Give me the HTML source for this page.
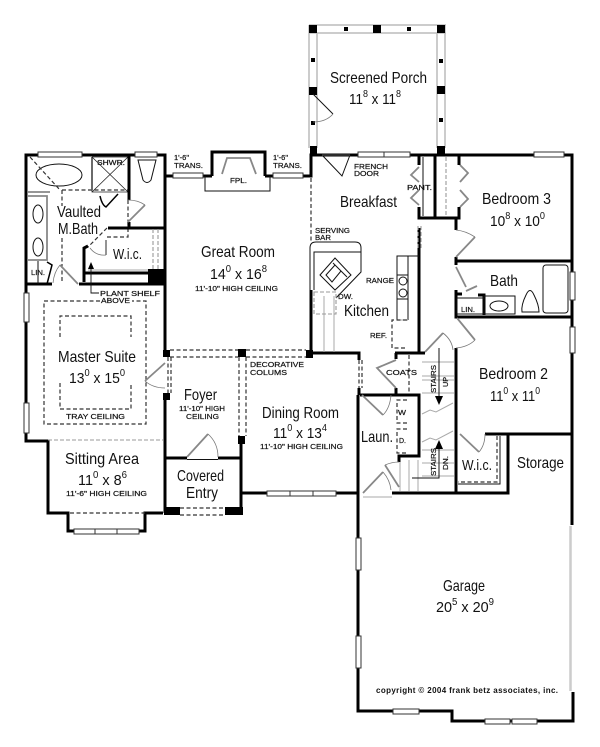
<!DOCTYPE html>
<html><head><meta charset="utf-8"><style>
html,body{margin:0;padding:0;background:#fff}
svg{display:block;filter:blur(.35px)}
text{font-family:"Liberation Sans",sans-serif;fill:#111}
.r{font-size:16px}.m{font-size:15px}
.s{font-size:7px;stroke:#111;stroke-width:.2}
.w{fill:none;stroke:#000;stroke-width:3}
.t{fill:none;stroke:#111;stroke-width:1}
.g{fill:none;stroke:#888;stroke-width:1.8}
.lg{fill:none;stroke:#aaa;stroke-width:1}
.d{fill:none;stroke:#333;stroke-width:1.2;stroke-dasharray:4 2.5}
.dg{fill:none;stroke:#999;stroke-width:1.1;stroke-dasharray:4 2}
.a{fill:none;stroke:#777;stroke-width:.8}
.win{fill:#fff;stroke:#333;stroke-width:1}
</style></head><body>
<svg width="600" height="747" viewBox="0 0 600 747" xmlns="http://www.w3.org/2000/svg">
<rect width="600" height="747" fill="#fff"/>
<!-- porch -->
<path d="M309 25H446M309 33H446M309 25V148M317 33V148M437 33V148M445 25V148" fill="none" stroke="#bbb" stroke-width="1.500"/>
<g fill="#000"><rect x="309" y="25" width="8" height="8"/><rect x="373" y="25" width="8" height="8"/><rect x="437" y="25" width="8" height="8"/><rect x="344" y="27" width="4" height="4"/><rect x="407" y="27" width="4" height="4"/><rect x="311" y="58" width="4" height="4"/><rect x="439" y="59" width="4" height="4"/><rect x="309" y="87" width="8" height="8"/><rect x="437" y="86" width="8" height="8"/><rect x="311" y="121" width="4" height="4"/><rect x="439" y="118" width="4" height="4"/><rect x="310" y="146" width="7" height="10"/><rect x="437" y="146" width="8" height="10"/></g>
<path class="t" d="M313 94L333 114"/><path class="a" d="M333 114Q326 122 313 122"/>
<!-- main walls -->
<path class="w" d="M165 176V155H26V293M26 322V403M26 433V441H48V513H68V531H145V513H163"/>
<path class="w" d="M165 155V351M165 397V513M165 458H187M218 458H241M241 437V513M241 493H358M392 493H508V434H485M572 434H485M358 395V711H452V721H573V692M572 525V155H311V176H303M205 176H165M212 176V152H265V176"/>
<path class="w" d="M205 176H212M265 176H273"/>
<path class="w" d="M313 353H359V360M311 290V353M359 388V395"/>
<!-- fireplace -->
<path class="t" d="M205 176V191H270V176"/><path class="g" d="M222 174L227 158H250L256 174"/>
<rect class="win" x="173" y="173" width="30" height="5"/><rect class="win" x="273" y="173" width="30" height="5"/>
<rect class="win" x="38" y="152" width="44" height="5"/><rect class="win" x="135" y="152" width="22" height="5"/>
<rect class="win" x="358" y="152" width="26" height="5"/><rect class="win" x="384" y="152" width="26" height="5"/>
<rect class="win" x="534" y="152" width="30" height="5"/>
<rect class="win" x="24" y="293" width="5" height="29"/><rect class="win" x="24" y="403" width="5" height="30"/>
<rect class="win" x="74" y="529" width="21" height="5"/><rect class="win" x="95" y="529" width="22" height="5"/><rect class="win" x="117" y="529" width="22" height="5"/>
<rect class="win" x="267" y="491" width="23" height="5"/><rect class="win" x="290" y="491" width="23" height="5"/><rect class="win" x="313" y="491" width="23" height="5"/>
<rect class="win" x="570" y="272" width="5" height="28"/><rect class="win" x="570" y="327" width="5" height="26"/>
<rect class="win" x="356" y="538" width="5" height="32"/><rect class="win" x="356" y="636" width="5" height="32"/>
<rect class="win" x="393" y="709" width="26" height="5"/><rect class="win" x="485" y="719" width="25" height="5"/><rect class="win" x="512" y="719" width="25" height="5"/>
<path d="M570.500 526V691" stroke="#ccc" stroke-width="2.500" fill="none"/>
<!-- master bath -->
<ellipse class="t" cx="59" cy="175" rx="23" ry="11"/>
<path class="d" d="M30 157L60 190M62 190V206M62 238V282M62 190H128M128 200V222M107 237H128V222M107 228L88 247"/>
<path class="g" d="M28 192H50M28 196H47V260H28M92 157V190"/>
<path d="M92 157H128V192H92V157M92 192L128 157M92 157L128 192" fill="none" stroke="#222" stroke-width=".8"/>
<path class="w" d="M129 155V200M129 222V228M108 228H165M84 282V248L88 246M84 273H148M26 284H52M79 284H165"/>
<path d="M100 196Q102 205 106 207L118 194" fill="none" stroke="#000" stroke-width="1.500"/>
<rect x="148" y="269" width="17" height="15" fill="#000"/>
<path class="dg" d="M153 229V270M158 229V270"/><path class="lg" d="M88 270H148"/>
<path class="g" d="M128 222L145 205"/><path class="a" d="M145 205Q138 200 128 200"/>
<path class="t" d="M138 160H156L151 180Q147 185 143 180Z"/>
<ellipse class="t" cx="38" cy="214" rx="5" ry="9"/><ellipse class="t" cx="38" cy="247" rx="5" ry="9"/>
<path class="t" d="M38 261V284"/><path d="M47 284L52 265L47 262" fill="none" stroke="#000" stroke-width="1.500"/>
<path class="g" d="M60 265L78 284"/><path class="a" d="M60 265Q54 272 53 283"/>
<path class="g" d="M106 240V255"/><path class="a" d="M106 255Q96 256 90 248"/>
<path d="M91 264V293H99" fill="none" stroke="#111" stroke-width=".9"/><path d="M91 262L88 269H94Z" fill="#000"/>
<!-- tray -->
<path class="d" d="M100 301H44V424H146V301H132M60 337V316H131V337M60 383V409H131V383"/>
<path class="dg" d="M48 440H163"/>
<!-- master door / foyer -->
<path class="g" d="M165 363L145 381"/><path class="a" d="M145 381Q153 388 165 388"/>
<path class="g" d="M187 457L208 434"/><path class="a" d="M208 434Q218 443 218 457"/>
<path class="t" d="M187 459.500H218"/>
<g fill="#000"><rect x="163" y="350" width="7" height="7"/><rect x="163" y="393" width="7" height="7"/><rect x="238" y="349" width="8" height="8"/><rect x="306" y="350" width="7" height="8"/><rect x="238" y="436" width="7" height="8"/><rect x="164" y="507" width="16" height="8"/><rect x="225" y="507" width="18" height="8"/></g>
<path class="d" d="M170 350H238M170 357H238M246 350H306M246 357H306M168 357V393M171 357V393M239 357V436M246 357V436M180 508H225M180 515H225M70 513H145M359 360V388M362 360V388"/>
<!-- kitchen -->
<path class="d" d="M311 178V242"/>
<path class="t" d="M310 290V248Q310 242 316 242H355Q361 242 361 248V272L336 298M314 290V252H361"/>
<path class="t" d="M320 275L335 258L351 275L335 290ZM326 275L335 265L341 271L332 282ZM333 263L347 277"/>
<path class="lg" d="M334 296V352M324 296V352"/>
<path class="dg" d="M314 292H336V314H314Z"/>
<path class="w" d="M419 353V228"/><path class="w" d="M419 155V165M419 207V218H459V207M459 155V165M435 155V217M456 217V230M456 257V265"/>
<path class="dg" d="M418 226V250M421 226V250M446 157V216"/>
<path class="t" d="M423 157V216M397 320V256H408V320M408 256H419"/>
<circle class="t" cx="403" cy="281" r="4"/><circle class="t" cx="403" cy="293" r="4"/><rect class="t" x="397" y="275" width="11" height="24"/><path class="lg" d="M397 320H408"/>
<path class="d" d="M407 320H392V348H407"/>
<path class="g" d="M419 167L411 175L419 182M419 190L411 198L419 205M460 165L468 173L460 182M460 190L468 199L460 207"/>
<path class="t" d="M322 155L342 176L350 155"/><path class="a" d="M322 155H350"/>
<path class="g" d="M456 257L475 237"/><path class="a" d="M475 237Q466 231 456 230"/>
<!-- bath -->
<path class="w" d="M456 261H572M456 290V317H572M456 294H462M478 295H484V315"/>
<rect class="t" x="543" y="265" width="25" height="48" rx="3"/>
<rect class="t" x="484" y="296" width="31" height="18"/><ellipse class="t" cx="499" cy="306" rx="9" ry="5"/>
<path class="t" d="M522 312Q521 305 526 295Q530 286 534 295Q539 305 539 312Z"/>
<rect class="t" x="457" y="298" width="27" height="16"/>
<path class="g" d="M456 267L466 287M466 291L477 286"/>
<!-- coats & stairs -->
<path class="w" d="M395 353H425M396 353V359M396 388V395M360 395H419V456H399V462M456 348V493"/>
<path class="g" d="M396 360L377 368L396 388"/>
<path class="d" d="M409 355V394M407 400H397V423H407M407 429H397V453H407"/>
<path class="g" d="M362 395L383 415"/><path class="a" d="M383 415Q390 408 391 395"/>
<path class="lg" d="M422 362H454M422 376H454M422 380H454M422 393H454M422 450H454M422 463H454M422 476H454M400 462V491M409 460V491M418 460V491"/>
<path class="t" d="M439 348V402"/><path d="M439 405L435 396H443Z" fill="#000"/>
<path class="lg" d="M422 414L430 410L436 412L453 403M422 442L430 438L436 440L453 431"/>
<path class="t" d="M439 444V478H412"/><path d="M439 440L435 449H443Z" fill="#000"/>
<path class="g" d="M425 352L443 333"/><path class="a" d="M443 333Q452 340 453 350"/>
<path class="g" d="M457 318L475 340"/><path class="a" d="M475 340Q468 347 456 348"/>
<path class="g" d="M460 434L479 452"/><path class="a" d="M479 452Q485 445 485 434"/>
<path class="d" d="M497 436V482H458"/><path class="t" d="M500 436V484H458"/>
<path class="g" d="M363 493L383 472"/><path class="a" d="M383 472Q390 480 391 490"/>
<path class="g" d="M385 465L399 487"/><path class="a" d="M385 465Q392 462 399 462"/>
<path class="lg" d="M363 497H392"/>
<!-- labels -->
<g>
<text class="r" x="330" y="83" textLength="97" lengthAdjust="spacingAndGlyphs">Screened Porch</text>
<text class="m" x="349" y="104" textLength="52" lengthAdjust="spacingAndGlyphs">11<tspan dy="-7" font-size="10">8</tspan><tspan dy="7"> x 11</tspan><tspan dy="-7" font-size="10">8</tspan></text>
<text class="r" x="57" y="217" textLength="44" lengthAdjust="spacingAndGlyphs">Vaulted</text>
<text class="r" x="58" y="234" textLength="40" lengthAdjust="spacingAndGlyphs">M.Bath</text>
<text class="s" x="97" y="165" textLength="28" lengthAdjust="spacingAndGlyphs">SHWR.</text>
<text class="s" x="174" y="160" textLength="15" lengthAdjust="spacingAndGlyphs">1'-6"</text>
<text class="s" x="174" y="168" textLength="29" lengthAdjust="spacingAndGlyphs">TRANS.</text>
<text class="s" x="273" y="160" textLength="15" lengthAdjust="spacingAndGlyphs">1'-6"</text>
<text class="s" x="273" y="168" textLength="29" lengthAdjust="spacingAndGlyphs">TRANS.</text>
<text class="s" x="230" y="183" textLength="17" lengthAdjust="spacingAndGlyphs">FPL.</text>
<text class="m" x="113" y="259" textLength="29" lengthAdjust="spacingAndGlyphs">W.i.c.</text>
<text class="s" x="31" y="275" textLength="14" lengthAdjust="spacingAndGlyphs">LIN.</text>
<text class="r" x="201" y="257" textLength="74" lengthAdjust="spacingAndGlyphs">Great Room</text>
<text class="m" x="210" y="279" textLength="57" lengthAdjust="spacingAndGlyphs">14<tspan dy="-7" font-size="10">0</tspan><tspan dy="7"> x 16</tspan><tspan dy="-7" font-size="10">8</tspan></text>
<text class="s" x="195" y="291" textLength="83" lengthAdjust="spacingAndGlyphs">11'-10" HIGH CEILING</text>
<text class="s" x="100" y="296" textLength="60" lengthAdjust="spacingAndGlyphs">PLANT SHELF</text>
<text class="s" x="101" y="303" textLength="29" lengthAdjust="spacingAndGlyphs">ABOVE</text>
<text class="r" x="58" y="362" textLength="78" lengthAdjust="spacingAndGlyphs">Master Suite</text>
<text class="m" x="69" y="383" textLength="56" lengthAdjust="spacingAndGlyphs">13<tspan dy="-7" font-size="10">0</tspan><tspan dy="7"> x 15</tspan><tspan dy="-7" font-size="10">0</tspan></text>
<text class="s" x="66" y="419" textLength="59" lengthAdjust="spacingAndGlyphs">TRAY CEILING</text>
<text class="r" x="65" y="464" textLength="74" lengthAdjust="spacingAndGlyphs">Sitting Area</text>
<text class="m" x="78" y="485" textLength="49" lengthAdjust="spacingAndGlyphs">11<tspan dy="-7" font-size="10">0</tspan><tspan dy="7"> x 8</tspan><tspan dy="-7" font-size="10">6</tspan></text>
<text class="s" x="66" y="496" textLength="81" lengthAdjust="spacingAndGlyphs">11'-6" HIGH CEILING</text>
<text class="r" x="177" y="481" textLength="47" lengthAdjust="spacingAndGlyphs">Covered</text>
<text class="r" x="186" y="498" textLength="32" lengthAdjust="spacingAndGlyphs">Entry</text>
<text class="r" x="184" y="400" textLength="33" lengthAdjust="spacingAndGlyphs">Foyer</text>
<text class="s" x="179" y="411" textLength="46" lengthAdjust="spacingAndGlyphs">11'-10" HIGH</text>
<text class="s" x="186" y="419" textLength="33" lengthAdjust="spacingAndGlyphs">CEILING</text>
<text class="s" x="250" y="367" textLength="54" lengthAdjust="spacingAndGlyphs">DECORATIVE</text>
<text class="s" x="250" y="375" textLength="37" lengthAdjust="spacingAndGlyphs">COLUMS</text>
<text class="r" x="262" y="418" textLength="77" lengthAdjust="spacingAndGlyphs">Dining Room</text>
<text class="m" x="273" y="438" textLength="54" lengthAdjust="spacingAndGlyphs">11<tspan dy="-7" font-size="10">0</tspan><tspan dy="7"> x 13</tspan><tspan dy="-7" font-size="10">4</tspan></text>
<text class="s" x="260" y="449" textLength="83" lengthAdjust="spacingAndGlyphs">11'-10" HIGH CEILING</text>
<text class="r" x="340" y="207" textLength="57" lengthAdjust="spacingAndGlyphs">Breakfast</text>
<text class="s" x="354" y="169" textLength="34" lengthAdjust="spacingAndGlyphs">FRENCH</text>
<text class="s" x="354" y="176" textLength="25" lengthAdjust="spacingAndGlyphs">DOOR</text>
<text class="s" x="407" y="190" textLength="25" lengthAdjust="spacingAndGlyphs">PANT.</text>
<text class="r" x="482" y="204" textLength="69" lengthAdjust="spacingAndGlyphs">Bedroom 3</text>
<text class="m" x="490" y="226" textLength="55" lengthAdjust="spacingAndGlyphs">10<tspan dy="-7" font-size="10">8</tspan><tspan dy="7"> x 10</tspan><tspan dy="-7" font-size="10">0</tspan></text>
<text class="s" x="315" y="233" textLength="35" lengthAdjust="spacingAndGlyphs">SERVING</text>
<text class="s" x="315" y="240" textLength="16" lengthAdjust="spacingAndGlyphs">BAR</text>
<text class="s" x="366" y="283" textLength="28" lengthAdjust="spacingAndGlyphs">RANGE</text>
<text class="s" x="338" y="299" textLength="15" lengthAdjust="spacingAndGlyphs">DW.</text>
<text class="r" x="344" y="316" textLength="45" lengthAdjust="spacingAndGlyphs">Kitchen</text>
<text class="s" x="370" y="338" textLength="17" lengthAdjust="spacingAndGlyphs">REF.</text>
<text class="r" x="490" y="286" textLength="28" lengthAdjust="spacingAndGlyphs">Bath</text>
<text class="s" x="461" y="312" textLength="14" lengthAdjust="spacingAndGlyphs">LIN.</text>
<text class="s" x="386" y="375" textLength="31" lengthAdjust="spacingAndGlyphs">COATS</text>
<text class="s" transform="translate(436 393) rotate(-90)" textLength="28" lengthAdjust="spacingAndGlyphs">STAIRS</text>
<text class="s" transform="translate(448 387) rotate(-90)" textLength="10" lengthAdjust="spacingAndGlyphs">UP</text>
<text class="r" x="479" y="379" textLength="69" lengthAdjust="spacingAndGlyphs">Bedroom 2</text>
<text class="m" x="490" y="401" textLength="50" lengthAdjust="spacingAndGlyphs">11<tspan dy="-7" font-size="10">0</tspan><tspan dy="7"> x 11</tspan><tspan dy="-7" font-size="10">0</tspan></text>
<text class="s" x="398" y="415" textLength="8" lengthAdjust="spacingAndGlyphs">W</text>
<text class="s" x="399" y="443" textLength="7" lengthAdjust="spacingAndGlyphs">D.</text>
<text class="r" x="361" y="442" textLength="32" lengthAdjust="spacingAndGlyphs">Laun.</text>
<text class="s" transform="translate(436 476) rotate(-90)" textLength="28" lengthAdjust="spacingAndGlyphs">STAIRS</text>
<text class="s" transform="translate(448 470) rotate(-90)" textLength="14" lengthAdjust="spacingAndGlyphs">DN.</text>
<text class="m" x="462" y="470" textLength="30" lengthAdjust="spacingAndGlyphs">W.i.c.</text>
<text class="r" x="517" y="468" textLength="47" lengthAdjust="spacingAndGlyphs">Storage</text>
<text class="r" x="443" y="591" textLength="42" lengthAdjust="spacingAndGlyphs">Garage</text>
<text class="m" x="436" y="612" textLength="58" lengthAdjust="spacingAndGlyphs">20<tspan dy="-7" font-size="10">5</tspan><tspan dy="7"> x 20</tspan><tspan dy="-7" font-size="10">9</tspan></text>
<text font-size="8" font-weight="bold" x="376" y="693" textLength="182" lengthAdjust="spacing">copyright © 2004 frank betz associates, inc.</text>
</g>
</svg>
</body></html>
